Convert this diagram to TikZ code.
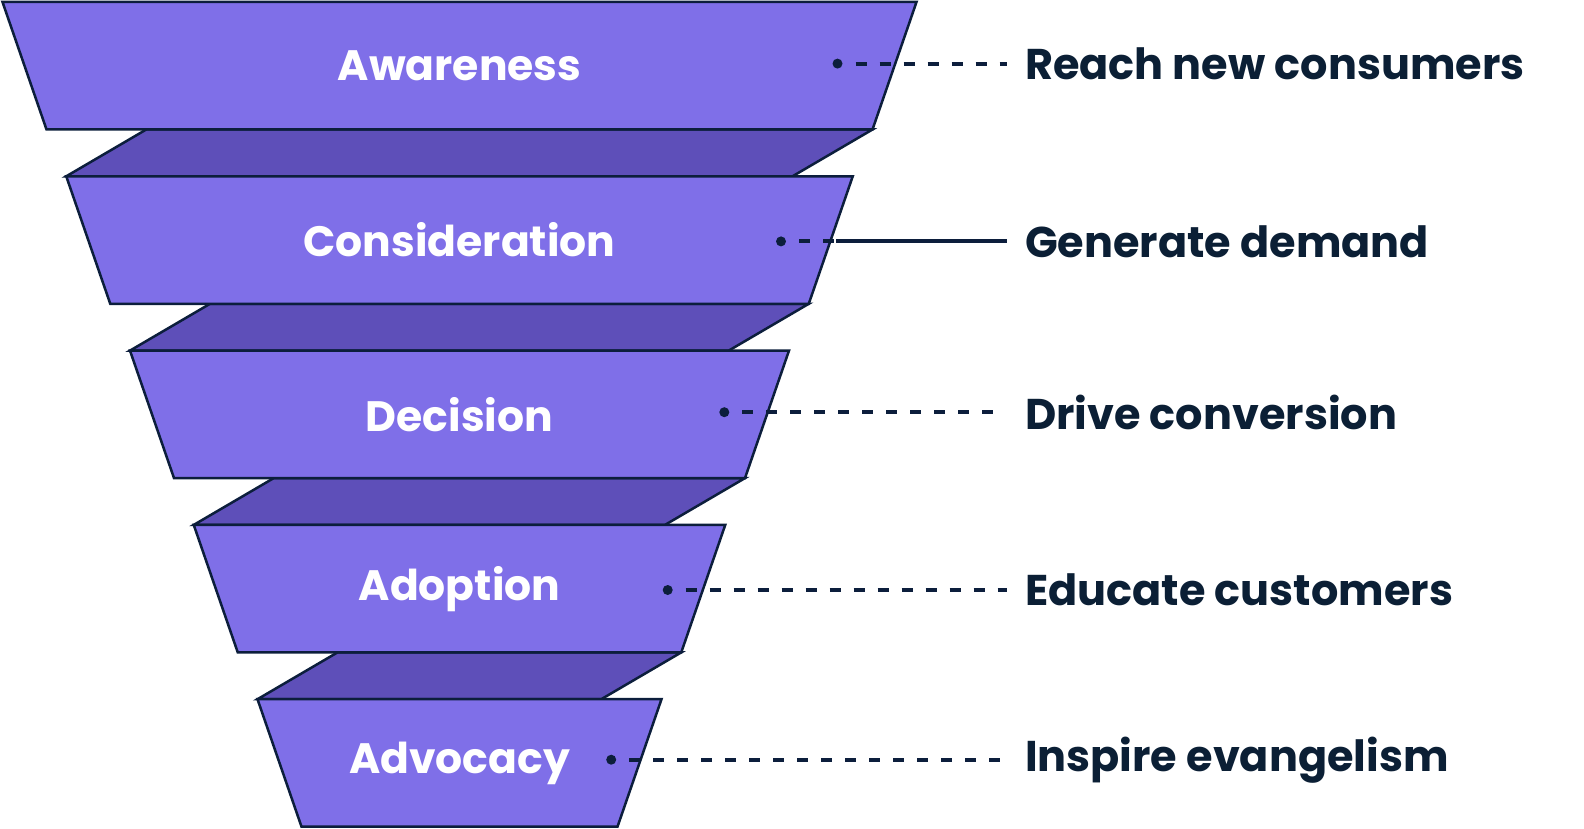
\documentclass[tikz,border=0pt]{standalone}
\usepackage{fontspec}
\setmainfont{Poppins}
\definecolor{tierfill}{HTML}{7F6FE8}
\definecolor{bandfill}{HTML}{5E4FB9}
\definecolor{edge}{HTML}{0C1E3C}
\definecolor{ink}{HTML}{0B1F35}
\tikzset{
  tier/.style={fill=tierfill,draw=edge,line width=2.5pt,line join=miter},
  band/.style={fill=bandfill,draw=edge,line width=2.5pt,line join=miter},
  tiertext/.style={text=white,font=\bfseries\fontsize{42.5}{42.5}\selectfont,inner sep=0pt},
  goal/.style={text=ink,font=\bfseries\fontsize{43}{43}\selectfont,anchor=west,inner xsep=18pt,inner ysep=0pt,outer sep=0pt},
  leaddot/.style={circle,fill=edge,inner sep=0pt,minimum size=10pt,outer sep=0pt},
  lead/.style={draw=edge,line width=4pt,dash pattern=on 11pt off 13pt,shorten <=13pt},
  solidlead/.style={draw=edge,line width=4pt}
}
\begin{document}
\begin{tikzpicture}[x=1pt,y=-1pt]
\useasboundingbox (0,0) rectangle (1584,829);
\def\cx{459.5}
% bands
\foreach \i in {0,...,3}{
  \pgfmathsetmacro{\bt}{2+174.3*\i+127.5}
  \pgfmathsetmacro{\bb}{2+174.3*(\i+1)}
  \pgfmathsetmacro{\hwa}{457-63.75*\i-44}
  \pgfmathsetmacro{\hwb}{457-63.75*(\i+1)}
  \path[band] (\cx-\hwb+80,\bt) -- (\cx+\hwa,\bt) -- (\cx+\hwa-80,\bb) -- (\cx-\hwb,\bb) -- cycle;
}
% tiers
\foreach \i/\txt in {0/Awareness,1/Consideration,2/Decision,3/Adoption,4/Advocacy}{
  \pgfmathsetmacro{\tt}{2+174.3*\i}
  \pgfmathsetmacro{\tb}{\tt+127.5}
  \pgfmathsetmacro{\hw}{457-63.75*\i}
  \path[tier] (\cx-\hw,\tt) -- (\cx+\hw,\tt) -- (\cx+\hw-44,\tb) -- (\cx-\hw+44,\tb) -- cycle;
  \node[tiertext] (t\i) at (\cx,\tt+63.75) {\txt};
}
% leaders and goals
\node[leaddot] (d0) at (837.5,63.6) {};
\node[leaddot] (d1) at (781,241.4) {};
\node[leaddot] (d2) at (724.3,412.2) {};
\node[leaddot] (d3) at (667.7,590) {};
\node[leaddot] (d4) at (611.2,759.7) {};
\coordinate (e1) at (836,241.4);
\node[goal] (g0) at (1007,63.6) {Reach new consumers};
\node[goal] (g1) at (1007,241.4) {Generate demand};
\node[goal,inner xsep=25pt] (g2) at (1000,412.2) {Drive conversion};
\node[goal] (g3) at (1007,590) {Educate customers};
\node[goal,inner xsep=25pt] (g4) at (1000,759.7) {Inspire evangelism};
\draw[lead] (d0) -- (g0.west);
\draw[lead] (d1) -- (e1);
\draw[solidlead] (e1) -- (g1.west);
\draw[lead] (d2) -- (g2.west);
\draw[lead] (d3) -- (g3.west);
\draw[lead] (d4) -- (g4.west);
\end{tikzpicture}
\end{document}
